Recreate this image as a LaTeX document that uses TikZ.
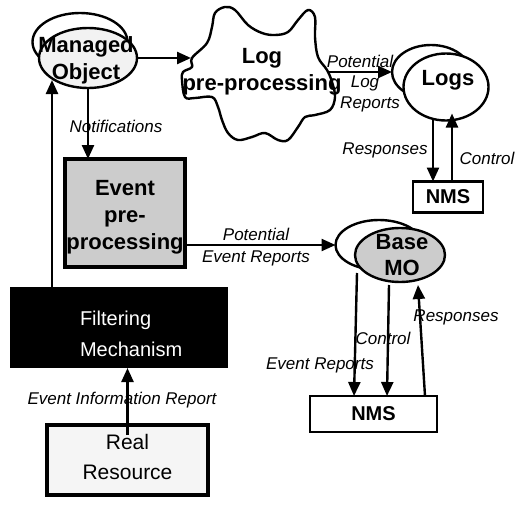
\documentclass[tikz,border=0pt]{standalone}
\usepackage{fontspec}
\setmainfont{Liberation Sans}
\usetikzlibrary{arrows.meta,shapes.geometric,calc}
\begin{document}
\begin{tikzpicture}[x=1pt,y=-1pt,
  every node/.style={inner sep=0pt, outer sep=0pt},
  ell/.style={draw, ellipse, line width=2.4pt},
  big/.style={font=\fontsize{22}{27}\selectfont\bfseries, align=center},
  lbl/.style={font=\fontsize{17}{19}\selectfont\itshape},
  arr/.style={line width=2.4pt, -{Triangle[length=14pt,width=12pt]}},
  box/.style={draw, line width=2.6pt, rectangle}
]
\useasboundingbox (0,0) rectangle (522,506);

% Managed Object
\node[ell, fill=white, minimum width=95pt, minimum height=58pt] (mob) at (80,42) {};
\node[ell, fill=gray!10, minimum width=98pt, minimum height=60pt] (mo) at (88,58) {};

% Log pre-processing cloud
\draw[line width=2.4pt, fill=white] plot[smooth cycle, tension=0.6] coordinates {(192,58) (207,43) (212,27) (215,13) (225,7) (235,10) (248,25) (262,33) (275,35) (288,32) (298,20) (308,10) (315,17) (315,37) (318,57) (327,70) (332,82) (335,97) (330,110) (315,115) (305,117) (298,127) (288,140) (278,140) (265,133) (252,137) (238,140) (228,133) (222,120) (218,107) (212,97) (195,98) (185,97) (182,80) (183,72) (192,67)};
\coordinate (cloudW) at (191,58);
\coordinate (cloudE) at (328,72);

% Logs
\node[ell, fill=white, minimum width=78pt, minimum height=54pt] (lgb) at (431,72) {};
\node[ell, fill=white, minimum width=85pt, minimum height=67pt] (lg) at (446,87) {};

% NMS (top)
\node[box, fill=white, minimum width=70pt, minimum height=31pt] (nms1) at (448,197) {};

% Event pre-processing
\node[box, line width=4pt, fill=gray!40, minimum width=120pt, minimum height=108pt] (ev) at (125,213) {};

% Base MO
\node[ell, fill=white, minimum width=87pt, minimum height=50pt] (bmb) at (379,245) {};
\node[ell, fill=gray!40, minimum width=90pt, minimum height=54pt] (bm) at (400,255) {};

% NMS (bottom)
\node[box, fill=white, minimum width=127pt, minimum height=36pt] (nms2) at (373.5,414) {};

% Filtering Mechanism
\node[rectangle, fill=black, minimum width=218pt, minimum height=81pt] (fm) at (119,327.5) {};

% Real Resource
\node[box, line width=3.5pt, fill=gray!8, minimum width=161pt, minimum height=70pt] (rr) at (127.5,460) {};

% Connectors
\draw[arr] (mo.east) -- (cloudW);
\draw[arr] (cloudE) -- (lgb.west);
\draw[arr] ($(lg.south)+(-13,-1)$) -- ($(nms1.north)+(-15,0)$);
\draw[arr] ($(nms1.north)+(4,0)$) -- ($(lg.south)+(6,-7)$);
\draw[arr] (mo.south) -- (mo.south |- ev.north);
\draw[arr] ($(fm.north west)+(42,0)$) -- ($(fm.north west)+(42,-207)$);
\draw[arr] ($(ev.south east)+(0,-22)$) -- (bmb.west);
\draw[arr] ($(rr.north)+(0,10)$) -- (rr.north |- fm.south);
\draw[arr] ($(bm.south)+(-43,-9)$) -- ($(nms2.north)+(-19.5,0)$);
\draw[arr] ($(bm.south)+(-11,3)$) -- ($(nms2.north)+(13.5,0)$);
\draw[arr] ($(nms2.north)+(51.5,0)$) -- ($(bm.south)+(18,3)$);

% Texts
\node[big] (motext) at (86,60) {Managed\\Object};
\node[big] (lpp) at (262,72) {Log\\pre-processing};
\node[big] (lgtext) at (448,80) {Logs};
\node[font=\fontsize{20}{22}\selectfont\bfseries] (nms1text) at (nms1) {NMS};
\node[big] (evtext) at (125,217.5) {Event\\pre-\\processing};
\node[big, font=\fontsize{22}{26}\selectfont\bfseries] (bmtext) at (402,255) {Base\\MO};
\node[font=\fontsize{20}{22}\selectfont\bfseries] (nms2text) at (nms2) {NMS};
\node[font=\fontsize{20}{31}\selectfont, text=white, align=left, anchor=west] (fmtext) at (80,334) {Filtering\\Mechanism};
\node[font=\fontsize{21}{30}\selectfont, align=center] (rrtext) at (127.5,457) {Real\\Resource};

% Labels
\node[lbl] (l1) at (360,61) {Potential};
\node[lbl] (l2) at (365,83) {Log};
\node[lbl] (l3) at (370,104) {Reports};
\node[lbl] (l4) at (385,150) {Responses};
\node[lbl] (l5) at (487,158) {Control};
\node[lbl] (l6) at (116,126) {Notifications};
\node[lbl] (l7) at (256,234) {Potential};
\node[lbl] (l8) at (256,258) {Event Reports};
\node[lbl] (l9) at (456,317) {Responses};
\node[lbl] (l10) at (383,338) {Control};
\node[lbl] (l11) at (320,365) {Event Reports};
\node[lbl] (l12) at (122,400) {Event Information Report};
\end{tikzpicture}
\end{document}
